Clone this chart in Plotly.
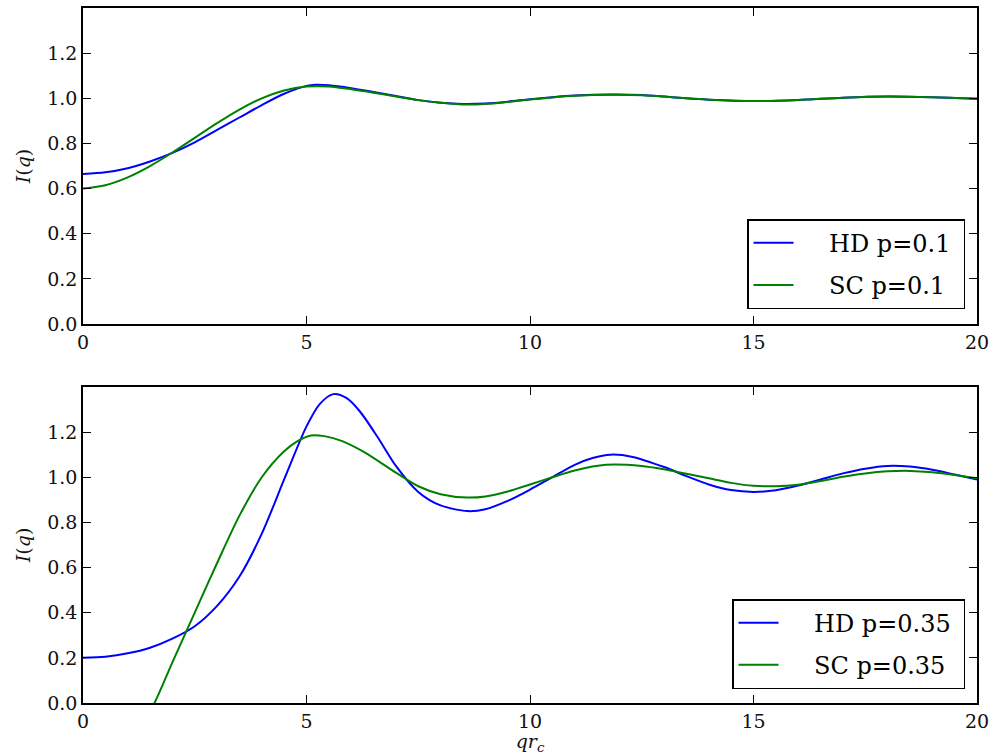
import plotly.graph_objects as go
from plotly.subplots import make_subplots

# Structure factor I(q) versus q*r_c, low density (p=0.1)
q_hd_01 = [0, 0.5, 1, 1.5, 2, 2.5, 3, 3.5, 4, 4.5, 5, 5.2, 5.5, 6, 6.5, 7, 7.5, 8, 8.5, 9, 9.5,
           10, 10.5, 11, 11.8, 12.5, 13, 13.5, 14, 15, 16, 17, 18, 19, 20]
i_hd_01 = [0.665, 0.672, 0.690, 0.720, 0.758, 0.805, 0.860, 0.915, 0.970, 1.020, 1.055, 1.060,
           1.058, 1.045, 1.028, 1.010, 0.992, 0.980, 0.975, 0.977, 0.985,
           0.996, 1.005, 1.012, 1.017, 1.015, 1.008, 1.000, 0.994, 0.988, 0.993, 1.003, 1.008, 1.005, 0.998]

q_sc_01 = [0, 0.5, 1, 1.5, 2, 2.5, 3, 3.5, 4, 4.5, 5, 5.5, 6, 6.5, 7, 7.5, 8, 8.5, 9, 9.5,
           10, 10.5, 11, 11.8, 12.5, 13, 13.5, 14, 15, 16, 17, 18, 19, 20]
i_sc_01 = [0.600, 0.615, 0.650, 0.700, 0.760, 0.825, 0.890, 0.950, 1.000, 1.035, 1.052, 1.052,
           1.040, 1.025, 1.008, 0.992, 0.980, 0.973, 0.975, 0.984,
           0.995, 1.004, 1.011, 1.016, 1.014, 1.008, 1.000, 0.994, 0.988, 0.993, 1.003, 1.008, 1.005, 0.998]

# Higher density (p=0.35)
q_hd_035 = [0, 0.5, 1, 1.5, 2, 2.5, 3, 3.5, 4, 4.5, 5, 5.3, 5.6, 5.9, 6.2, 6.6, 7, 7.5, 8, 8.6, 9, 9.5,
            10, 10.5, 11, 11.4, 11.8, 12.3, 13, 13.5, 14, 14.5, 15, 15.5, 16, 16.5, 17, 17.5, 18, 18.5, 19, 19.5, 20]
i_hd_035 = [0.200, 0.205, 0.220, 0.245, 0.285, 0.340, 0.430, 0.560, 0.750, 0.990, 1.225, 1.325, 1.368,
            1.350, 1.290, 1.175, 1.050, 0.935, 0.875, 0.850, 0.858, 0.895,
            0.945, 1.000, 1.055, 1.085, 1.100, 1.090, 1.045, 1.005, 0.968, 0.943, 0.935, 0.942, 0.963,
            0.990, 1.017, 1.038, 1.050, 1.047, 1.033, 1.012, 0.990]

q_sc_035 = [0, 0.5, 1, 1.6, 2, 2.5, 3, 3.5, 4, 4.5, 4.8, 5.1, 5.4, 5.8, 6.3, 7, 7.5, 8, 8.6, 9, 9.5,
            10, 10.5, 11, 11.7, 12.5, 13, 13.5, 14, 14.5, 15, 15.5, 16, 16.5, 17, 17.5, 18, 18.5, 19, 19.5, 20]
i_sc_035 = [-0.62, -0.42, -0.22, 0.000, 0.180, 0.400, 0.620, 0.830, 1.000, 1.115, 1.160, 1.185, 1.182,
            1.160, 1.110, 1.020, 0.960, 0.925, 0.910, 0.915, 0.937,
            0.968, 1.000, 1.030, 1.055, 1.050, 1.035, 1.015, 0.995, 0.975, 0.962, 0.960, 0.967,
            0.983, 1.002, 1.017, 1.026, 1.028, 1.022, 1.010, 0.995]

y_ticks = [0.0, 0.2, 0.4, 0.6, 0.8, 1.0, 1.2]
x_ticks = [0, 5, 10, 15, 20]

BLUE = "#0000ff"
GREEN = "#008000"
FONT = "DejaVu Serif"
PAD = "\u00a0" * 4

fig = make_subplots(rows=2, cols=1, vertical_spacing=0.0904)

series = [
    (q_hd_01, i_hd_01, "HD p=0.1", BLUE, 1, "legend"),
    (q_sc_01, i_sc_01, "SC p=0.1", GREEN, 1, "legend"),
    (q_hd_035, i_hd_035, "HD p=0.35", BLUE, 2, "legend2"),
    (q_sc_035, i_sc_035, "SC p=0.35", GREEN, 2, "legend2"),
]
for k, (x, y, name, color, row, leg) in enumerate(series):
    fig.add_trace(
        go.Scatter(x=x, y=y, mode="lines", name=PAD + name + "\u00a0", legend=leg, legendgroup=f"g{k}",
                   line=dict(color=color, width=2, shape="spline", smoothing=0.8)),
        row=row, col=1,
    )

axis_common = dict(
    showline=True, linecolor="black", linewidth=1.5, mirror="ticks",
    ticks="inside", ticklen=8, tickwidth=1, tickcolor="black",
    showgrid=False, zeroline=False,
    tickfont=dict(family=FONT, size=19, color="#111111"),
)
for r in (1, 2):
    fig.update_xaxes(range=[0, 20], tickvals=x_ticks, ticktext=[str(v) for v in x_ticks],
                     **axis_common, row=r, col=1)
    fig.update_yaxes(range=[0, 1.4], tickvals=y_ticks, ticktext=[f"{v:.1f}" for v in y_ticks],
                     title=dict(text="<i>I</i>(<i>q</i>)", font=dict(family=FONT, size=19, color="#111111"),
                                standoff=12),
                     **axis_common, row=r, col=1)

fig.update_xaxes(title=dict(text="<i>qr</i><sub><i>c</i></sub>", font=dict(family=FONT, size=19, color="#111111"),
                            standoff=4), row=2, col=1)

legend_common = dict(
    bgcolor="white", bordercolor="black", borderwidth=1.5,
    font=dict(family=FONT, size=24, color="black"),
    xanchor="right", yanchor="bottom", tracegroupgap=8, itemwidth=40,
)
fig.update_layout(
    width=995, height=755,
    margin=dict(l=83, r=18, t=6, b=52),
    paper_bgcolor="white", plot_bgcolor="white",
    showlegend=True,
    legend=dict(x=0.9866, y=0.5667, **legend_common),
    legend2=dict(x=0.9866, y=0.0201, **legend_common),
)

fig.write_html("out.html")
